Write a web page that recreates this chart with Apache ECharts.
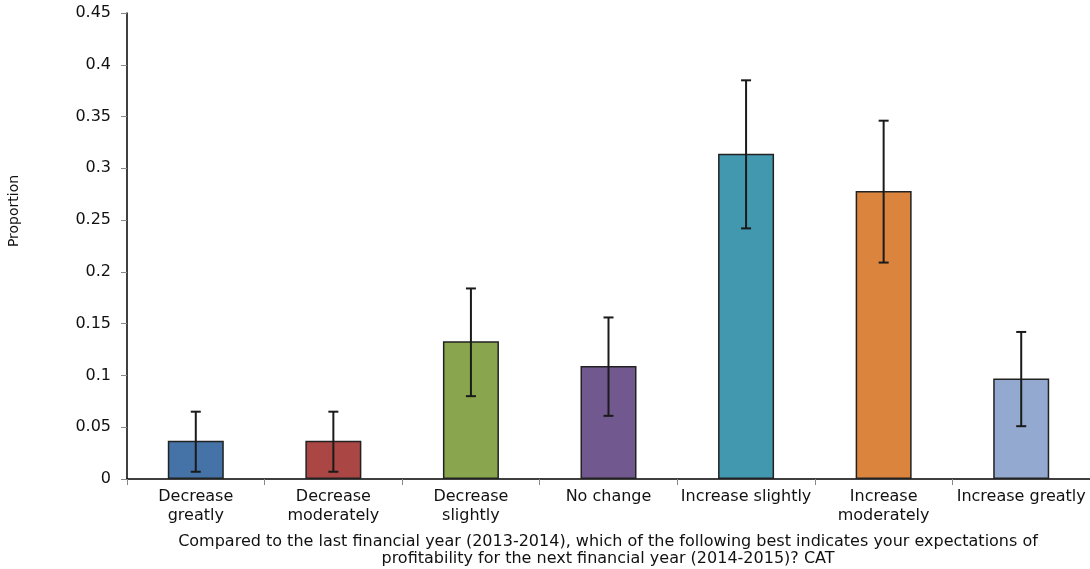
<!DOCTYPE html>
<html>
<head>
<meta charset="utf-8">
<script src="https://cdn.jsdelivr.net/npm/echarts@6/dist/echarts.min.js"></script>
<style>
html,body{margin:0;padding:0;background:#fff;}
#chart{width:1090px;height:569px;}
</style>
</head>
<body>
<div id="chart"></div>
<script>
const categories = ["Decrease\ngreatly", "Decrease\nmoderately", "Decrease\nslightly", "No change", "Increase slightly", "Increase\nmoderately", "Increase greatly"];
const proportions = [0.037, 0.037, 0.133, 0.109, 0.314, 0.278, 0.097];
const errLow = [0.007, 0.007, 0.080, 0.061, 0.242, 0.209, 0.051];
const errHigh = [0.065, 0.065, 0.184, 0.156, 0.385, 0.346, 0.142];
const barColors = ["#4572A7", "#AA4643", "#89A54E", "#71588F", "#4198AF", "#DB843D", "#93A9CF"];
const yTicks = [0, 0.05, 0.1, 0.15, 0.2, 0.25, 0.3, 0.35, 0.4, 0.45];
const yTitle = "Proportion";
const xTitle = "Compared to the last financial year (2013-2014), which of the following best indicates your expectations of\nprofitability for the next financial year (2014-2015)? CAT";

const FONT = "'DejaVu Sans', 'Liberation Sans', Arial, sans-serif";
const chart = echarts.init(document.getElementById('chart'), null, {renderer: 'canvas'});

const option = {
  animation: false,
  backgroundColor: '#ffffff',
  grid: {left: 127, right: 0, top: 13, bottom: 90, containLabel: false},
  xAxis: {
    type: 'category',
    data: categories,
    boundaryGap: true,
    axisLine: {show: true, lineStyle: {color: '#000', width: 1.5}},
    axisTick: {show: true, length: 6, lineStyle: {color: '#888'}},
    axisLabel: {color: '#111', fontSize: 16, fontFamily: FONT, lineHeight: 19, margin: 8, interval: 0}
  },
  yAxis: {
    type: 'value',
    min: yTicks[0],
    max: yTicks[yTicks.length - 1],
    interval: 0.05,
    axisLine: {show: true, lineStyle: {color: '#000', width: 1.5}},
    axisTick: {show: true, length: 6, lineStyle: {color: '#888'}},
    splitLine: {show: false},
    axisLabel: {color: '#111', fontSize: 16, fontFamily: FONT, margin: 16,
      formatter: function (v) { return String(parseFloat(v.toFixed(2))); }}
  },
  graphic: [
    {type: 'text', rotation: Math.PI / 2, x: 14, y: 211,
      style: {text: yTitle, fill: '#111', font: '14px ' + FONT, textAlign: 'center', textVerticalAlign: 'middle'}},
    {type: 'text', x: 608, y: 533,
      style: {text: xTitle, fill: '#111', font: '16px ' + FONT, textAlign: 'center', lineHeight: 17}}
  ],
  series: [
    {
      type: 'bar',
      barWidth: 56,
      data: proportions.map((v, i) => ({value: v, itemStyle: {color: barColors[i]}})),
      itemStyle: {borderColor: '#222', borderWidth: 1.5}
    },
    {
      type: 'custom',
      z: 5,
      data: errLow.map((lo, i) => [i, lo, errHigh[i]]),
      renderItem: function (params, api) {
        const x = api.value(0);
        const lo = api.coord([x, api.value(1)]);
        const hi = api.coord([x, api.value(2)]);
        const hw = 5;
        const st = {stroke: '#1a1a1a', lineWidth: 2};
        return {
          type: 'group',
          children: [
            {type: 'line', shape: {x1: lo[0], y1: lo[1], x2: hi[0], y2: hi[1]}, style: st},
            {type: 'line', shape: {x1: hi[0] - hw, y1: hi[1], x2: hi[0] + hw, y2: hi[1]}, style: st},
            {type: 'line', shape: {x1: lo[0] - hw, y1: lo[1], x2: lo[0] + hw, y2: lo[1]}, style: st}
          ]
        };
      }
    }
  ]
};
chart.setOption(option);
</script>
</body>
</html>
